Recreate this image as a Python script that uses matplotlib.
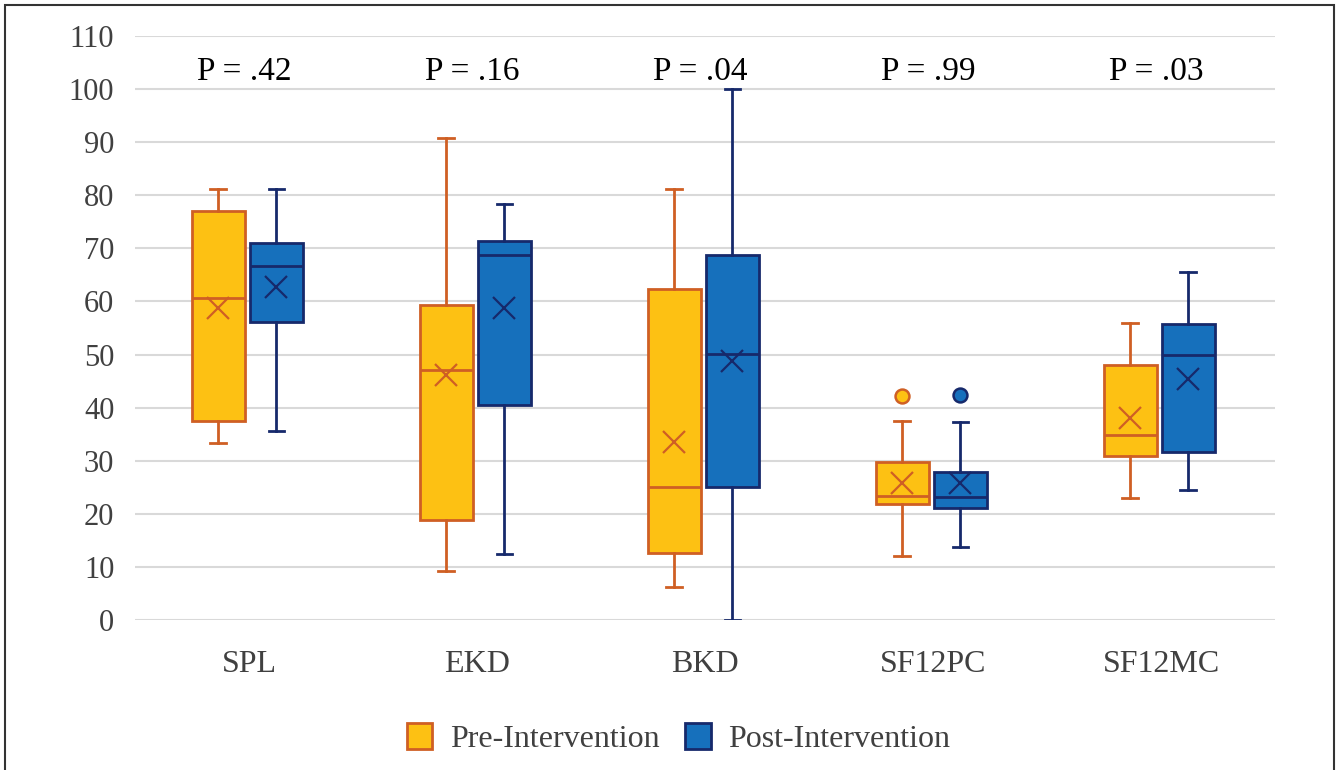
import matplotlib.pyplot as plt
import matplotlib.patches as mpatches
import numpy as np

plt.rcParams['font.family'] = ['Liberation Serif', 'DejaVu Serif']

categories = ['SPL', 'EKD', 'BKD', 'SF12PC', 'SF12MC']
p_labels = ['P = .42', 'P = .16', 'P = .04', 'P = .99', 'P = .03']

# whisker low, q1, median, q3, whisker high, mean, outliers
pre_whislo = [33.3, 9.2, 6.2, 12.1, 23.0]
pre_q1 = [37.5, 18.8, 12.6, 21.9, 30.8]
pre_med = [60.6, 47.1, 25.0, 23.4, 34.8]
pre_q3 = [77.0, 59.3, 62.3, 29.8, 48.0]
pre_whishi = [81.2, 90.8, 81.2, 37.5, 56.0]
pre_mean = [58.8, 46.1, 33.5, 25.8, 38.0]
pre_fliers = [[], [], [], [42.2], []]

post_whislo = [35.6, 12.4, 0.0, 13.7, 24.5]
post_q1 = [56.1, 40.5, 25.0, 21.0, 31.7]
post_med = [66.7, 68.7, 50.1, 23.2, 49.9]
post_q3 = [71.0, 71.4, 68.7, 27.9, 55.7]
post_whishi = [81.2, 78.3, 100.0, 37.2, 65.5]
post_mean = [62.7, 58.8, 48.8, 25.8, 45.4]
post_fliers = [[], [], [], [42.4], []]

pre_fill, pre_edge = '#FDC113', '#CF5F24'
post_fill, post_edge = '#1670BC', '#16296B'


def make_stats(lo, q1, med, q3, hi, mean, fl):
    return [dict(whislo=a, q1=b, med=c, q3=d, whishi=e, mean=f, fliers=g)
            for a, b, c, d, e, f, g in zip(lo, q1, med, q3, hi, mean, fl)]


fig = plt.figure(figsize=(13.38, 7.7), dpi=100)
ax = fig.add_axes([0.101, 0.195, 0.852, 0.758])

x = np.arange(len(categories))
w = 0.235

for stats, pos, fill, edge in [
        (make_stats(pre_whislo, pre_q1, pre_med, pre_q3, pre_whishi, pre_mean, pre_fliers), x - 0.135, pre_fill, pre_edge),
        (make_stats(post_whislo, post_q1, post_med, post_q3, post_whishi, post_mean, post_fliers), x + 0.12, post_fill, post_edge)]:
    ax.bxp(stats, positions=pos, widths=w, patch_artist=True, showmeans=True,
           capwidths=0.07,
           boxprops=dict(facecolor=fill, edgecolor=edge, linewidth=2),
           medianprops=dict(color=edge, linewidth=2),
           whiskerprops=dict(color=edge, linewidth=2),
           capprops=dict(color=edge, linewidth=2),
           meanprops=dict(marker='x', markeredgecolor=edge, markersize=16, markeredgewidth=1.6),
           flierprops=dict(marker='o', markerfacecolor=fill, markeredgecolor=edge,
                           markersize=10, markeredgewidth=1.8))

for xi, lab in zip(x, p_labels):
    ax.text(xi - 0.02, 103.3, lab, ha='center', va='center', fontsize=24, color='black')

ax.set_xlim(-0.5, len(categories) - 0.5)
ax.set_ylim(0, 110)
ax.set_yticks(np.arange(0, 111, 10))
ax.set_xticks(x)
ax.set_xticklabels(categories)
ax.tick_params(axis='both', length=0, labelsize=22, colors='#404040')
ax.tick_params(axis='x', labelsize=23, pad=22)
ax.tick_params(axis='y', pad=15)
ax.yaxis.grid(True, color='#D9D9D9', linewidth=1.5)
ax.set_axisbelow(True)
for s in ax.spines.values():
    s.set_visible(False)

handles = [mpatches.Patch(facecolor=pre_fill, edgecolor=pre_edge, linewidth=2, label='Pre-Intervention'),
           mpatches.Patch(facecolor=post_fill, edgecolor=post_edge, linewidth=2, label='Post-Intervention')]
fig.legend(handles=handles, loc='center', bbox_to_anchor=(0.507, 0.041), ncol=2, frameon=False,
           fontsize=23, handlelength=0.8, handleheight=0.9, columnspacing=0.8, handletextpad=0.55,
           labelcolor='#404040')

fig.patches.append(mpatches.Rectangle((0.004, -0.01), 0.993, 1.004, transform=fig.transFigure,
                                      fill=False, edgecolor='#333333', linewidth=1.5))

fig.savefig('out.png', dpi=100)
